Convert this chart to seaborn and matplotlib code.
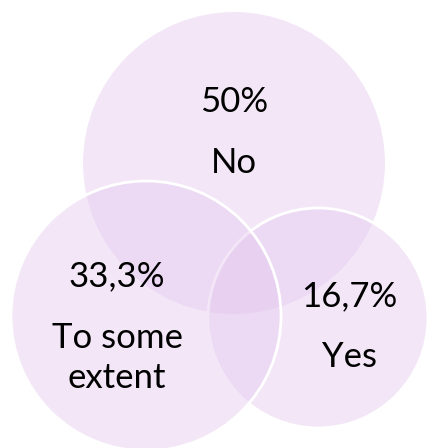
import seaborn as sns
import matplotlib.pyplot as plt
from matplotlib.patches import Circle

# Data
categories = ["No", "Yes", "To some\nextent"]
shares = ["50%", "16,7%", "33,3%"]

# layout: circle centre x, y and radius in pixel units (drawing order)
centres = [(234, 163), (318, 318), (146, 316)]
radii = [151, 110, 135]
value_pos = [(234, 102), (349, 296), (117, 276)]
label_pos = [(234, 163), (349, 357), (117, 358)]

if __name__ == "__main__":
    sns.set_theme(style="white")
    plt.rcParams["font.family"] = ["Lato", "DejaVu Sans"]

    fig = plt.figure(figsize=(4.32, 4.48), dpi=100)
    ax = fig.add_axes([0, 0, 1, 1])
    ax.set_xlim(0, 432)
    ax.set_ylim(448, 0)
    ax.set_aspect("equal")
    ax.axis("off")

    fill = "#e3c6ee"
    for i, ((cx, cy), r) in enumerate(zip(centres, radii)):
        ax.add_patch(Circle((cx, cy), r, facecolor=fill, alpha=0.42,
                            edgecolor="none"))
        if i > 0:
            ax.add_patch(Circle((cx, cy), r, facecolor="none",
                                edgecolor="white", linewidth=2))

    for s, (x, y) in zip(shares, value_pos):
        ax.text(x, y, s, ha="center", va="center", fontsize=25, color="black")
    for c, (x, y) in zip(categories, label_pos):
        ax.text(x, y, c, ha="center", va="center", fontsize=25, color="black",
                linespacing=1.3)

    fig.savefig("out.png", dpi=100)
